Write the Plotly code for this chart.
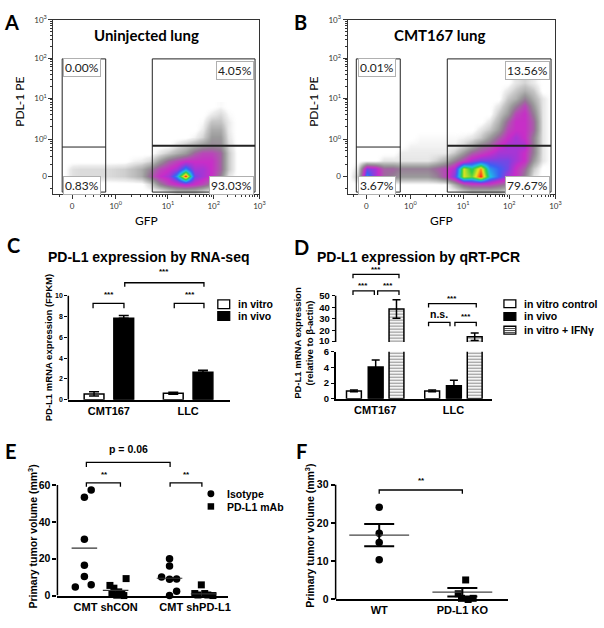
import numpy as np
import plotly.graph_objects as go

W, H = 604, 628

# ====================== DATA ======================
# ---- Panels A / B : flow cytometry (density on a display-scale grid)
flow_tick_labels = ["0", "10<sup>0</sup>", "10<sup>1</sup>", "10<sup>2</sup>", "10<sup>3</sup>"]
flow_titles = ["Uninjected lung", "CMT167 lung"]
flow_x_title = "GFP"
flow_y_title = "PDL-1 PE"
flow_a_percent = ["0.00%", "4.05%", "0.83%", "93.03%"]   # UL, UR, LL, LR
flow_b_percent = ["0.01%", "13.56%", "3.67%", "79.67%"]

flow_grid_x = [-0.4, -0.2, 0.0, 0.2, 0.4, 0.6, 0.8, 1.0, 1.2, 1.4, 1.6, 1.8,
               2.0, 2.2, 2.4, 2.6, 2.8, 3.0, 3.2, 3.4, 3.6, 3.8, 4.0, 4.2]
flow_a_grid_y = [-0.4, -0.2, 0.0, 0.2, 0.4, 0.6, 0.8, 1.0, 1.2, 1.4, 1.6, 1.8]
flow_a_density = [
    [0, 0, 0, 0, 0, 0, 0, 0, 0, 0, 0, 0, 0, 0.5, 1, 1, 1, 0.5, 0, 0, 0, 0, 0, 0],
    [0, 0, 0, 0, 0, 0, 0, 0, 0, 0, 0, 0.8, 2.5, 3.5, 4, 4.5, 4, 3.5, 2.5, 1, 0, 0, 0, 0],
    [0, 0, 0.6, 0.7, 0.7, 0.7, 0.7, 0.8, 0.9, 1.2, 1.6, 3, 4, 4.5, 6, 9, 5, 4.5, 4, 2.5, 0.5, 0, 0, 0],
    [0, 0, 0.6, 0.7, 0.7, 0.7, 0.7, 0.8, 0.9, 1.2, 1.6, 2.5, 3.5, 4, 4.5, 6, 4.5, 4.5, 4, 3, 1, 0, 0, 0],
    [0, 0, 0, 0, 0, 0, 0, 0, 0, 0.3, 0.4, 0.8, 2, 3, 3.5, 4, 4, 4, 4, 3, 1, 0, 0, 0],
    [0, 0, 0, 0, 0, 0, 0, 0, 0, 0, 0, 0, 0.5, 1, 1.5, 2, 3, 3.5, 3.5, 3, 1, 0, 0, 0],
    [0, 0, 0, 0, 0, 0, 0, 0, 0, 0, 0, 0, 0, 0, 0.5, 1, 1.5, 2, 2.3, 2.2, 0.7, 0, 0, 0],
    [0, 0, 0, 0, 0, 0, 0, 0, 0, 0, 0, 0, 0, 0, 0, 0, 0.3, 0.8, 2, 2, 0.5, 0, 0, 0],
    [0, 0, 0, 0, 0, 0, 0, 0, 0, 0, 0, 0, 0, 0, 0, 0, 0, 0.4, 1.6, 1.6, 0.4, 0, 0, 0],
    [0, 0, 0, 0, 0, 0, 0, 0, 0, 0, 0, 0, 0, 0, 0, 0, 0, 0.2, 1.1, 1.1, 0.4, 0, 0, 0],
    [0, 0, 0, 0, 0, 0, 0, 0, 0, 0, 0, 0, 0, 0, 0, 0, 0, 0, 0.4, 0.7, 0.2, 0, 0, 0],
    [0, 0, 0, 0, 0, 0, 0, 0, 0, 0, 0, 0, 0, 0, 0, 0, 0, 0, 0, 0.2, 0, 0, 0, 0],
]
flow_b_grid_y = [-0.4, -0.2, 0.0, 0.2, 0.4, 0.6, 0.8, 1.0, 1.2, 1.4, 1.6, 1.8, 2.0, 2.2, 2.4]
flow_b_density = [
    [0, 0, 0, 0, 0, 0, 0, 0, 0, 0, 0, 0, 0, 0.5, 1, 1, 1, 1, 0.5, 0, 0, 0, 0, 0],
    [0, 0, 1, 0.5, 0, 0, 0, 0, 0, 0, 0, 0, 1.5, 3, 3.5, 3.5, 3.5, 3, 2.5, 1.5, 0.5, 0, 0, 0],
    [0, 1, 6, 4.5, 3, 2.5, 2, 2, 2, 2, 2.5, 3.5, 5, 8, 7.5, 9, 6.5, 5.5, 4.5, 4, 2.5, 0.5, 0, 0],
    [0, 0.5, 5, 4.5, 3, 3, 2.5, 2.5, 2.5, 2.5, 3, 3.5, 4.5, 8, 7, 8.5, 6, 5.5, 5, 4, 3, 1, 0, 0],
    [0, 0, 0, 0, 0.5, 0.5, 0.5, 0.5, 0.5, 0.5, 0.9, 1.5, 2.5, 3.5, 4.5, 5, 5, 5, 5, 4.5, 4, 2, 0.5, 0],
    [0, 0, 0, 0, 0, 0, 0.4, 0.4, 0.4, 0.4, 0.4, 0.4, 1, 2, 3, 3.5, 4, 4.5, 4.5, 4.5, 4, 2.5, 0.5, 0],
    [0, 0, 0, 0, 0, 0, 0, 0.3, 0.3, 0.3, 0.3, 0.3, 0.3, 0.8, 1.5, 2.5, 3, 4, 4.5, 4.5, 4.5, 2.5, 0.5, 0],
    [0, 0, 0, 0, 0, 0, 0, 0, 0.2, 0.2, 0.2, 0.2, 0.2, 0.3, 0.5, 1, 2, 3, 4, 4.5, 4, 2.5, 0.5, 0],
    [0, 0, 0, 0, 0, 0, 0, 0, 0, 0, 0, 0, 0, 0, 0, 0.5, 1, 2, 3.5, 4, 4, 3, 0.5, 0],
    [0, 0, 0, 0, 0, 0, 0, 0, 0, 0, 0, 0, 0, 0, 0, 0, 0.5, 1.5, 3, 4, 4, 3, 0.5, 0],
    [0, 0, 0, 0, 0, 0, 0, 0, 0, 0, 0, 0, 0, 0, 0, 0, 0, 1, 2, 3.5, 4, 2.5, 0.5, 0],
    [0, 0, 0, 0, 0, 0, 0, 0, 0, 0, 0, 0, 0, 0, 0, 0, 0, 0.5, 1.5, 2.5, 3.5, 2, 0.5, 0],
    [0, 0, 0, 0, 0, 0, 0, 0, 0, 0, 0, 0, 0, 0, 0, 0, 0, 0, 1, 1.5, 2.5, 1.5, 0.5, 0],
    [0, 0, 0, 0, 0, 0, 0, 0, 0, 0, 0, 0, 0, 0, 0, 0, 0, 0, 0.5, 1, 1.5, 1, 0, 0],
    [0, 0, 0, 0, 0, 0, 0, 0, 0, 0, 0, 0, 0, 0, 0, 0, 0, 0, 0, 0.5, 0.8, 0.4, 0, 0],
]
# gates in display units: [x0, x1, y0, y1, divider]
flow_gate_left = [-0.23, 0.77, -0.4, 3.0, 0.75]
flow_gate_right = [1.84, 4.2, -0.4, 3.0, 0.78]

# ---- Panel C : RNA-seq
c_title = "PD-L1 expression by RNA-seq"
c_ytitle = "PD-L1 mRNA expression (FPKM)"
c_categories = ["CMT167", "LLC"]
c_series = ["in vitro", "in vivo"]
c_in_vitro = [0.56, 0.62]
c_in_vitro_err = [0.2, 0.1]
c_in_vivo = [7.83, 2.65]
c_in_vivo_err = [0.28, 0.18]
c_ticks = [0, 2, 4, 6, 8, 10]

# ---- Panel D : qRT-PCR
d_title = "PD-L1 expression by qRT-PCR"
d_ytitle = "PD-L1 mRNA expression<br>(relative to β-actin)"
d_categories = ["CMT167", "LLC"]
d_series = ["in vitro control", "in vivo", "in vitro + IFNγ"]
d_control = [1.0, 1.0]
d_control_err = [0.12, 0.1]
d_vivo = [4.05, 1.65]
d_vivo_err = [0.9, 0.7]
d_ifn = [38.5, 14.5]
d_ifn_err = [8.0, 3.2]
d_ticks_low = [0, 2, 4, 6]
d_ticks_high = [10, 20, 30, 40, 50]

# ---- Panel E : tumor volume, antibody
e_ytitle = "Primary tumor volume (mm<sup>3</sup>)"
e_groups = ["CMT shCON", "CMT shPD-L1"]
e_series = ["Isotype", "PD-L1 mAb"]
e_iso_shcon = [57.2, 53.3, 30.6, 16.5, 10.3, 4.6, 5.8]
e_mab_shcon = [9.2, 5.5, 4.0, 2.0, 1.0, 0.6, 0.2, 0.0]
e_iso_shpd = [20.0, 16.0, 10.0, 9.0, 8.8, 2.3, 0.0]
e_mab_shpd = [5.8, 1.1, 1.1, 0.3, 0.3, 0.0]
e_center_lines = [25.7, 2.8, 9.4, 0.9]
e_ticks = [0, 20, 40, 60]

# ---- Panel F : tumor volume, KO
f_groups = ["WT", "PD-L1 KO"]
f_wt = [24.1, 17.3, 14.9, 10.4]
f_ko = [5.1, 1.5, 0.3, 0.0, 0.3]
f_mean = [16.8, 1.9]
f_sem = [2.9, 1.1]
f_ticks = [0, 10, 20, 30]

# ====================== LAYOUT HELPERS ======================
ARIAL = "Liberation Sans, Arial, sans-serif"
CALI = "Lato, Carlito, sans-serif"


def xd(a, b):
    return [a / W, b / W]


def yd(top, bottom):
    return [1 - bottom / H, 1 - top / H]


def P(x, y):
    return x / W, 1 - y / H


annotations = []
shapes = []


def ann(text, x, y, size, family=ARIAL, bold=True, xanchor="center", angle=0, color="black"):
    px_, py_ = P(x, y)
    annotations.append(dict(text=text, x=px_, y=py_, xref="paper", yref="paper", showarrow=False,
                            xanchor=xanchor, yanchor="middle", textangle=angle,
                            font=dict(family=family, size=size, color=color,
                                      weight="bold" if bold else "normal")))


def dann(text, x, y, xref, yref, size, bold=True, family=ARIAL):
    annotations.append(dict(text=text, x=x, y=y, xref=xref, yref=yref, showarrow=False,
                            xanchor="center", yanchor="middle",
                            font=dict(family=family, size=size, color="black",
                                      weight="bold" if bold else "normal")))


def bracket(xref, yref, x0, x1, y, drop):
    shapes.append(dict(type="path", xref=xref, yref=yref, layer="above",
                       path=f"M {x0},{y - drop} L {x0},{y} L {x1},{y} L {x1},{y - drop}",
                       line=dict(color="black", width=1.3)))


fig = go.Figure()

# ====================== A / B flow ======================
flow_cs = [
    [0.0, "rgba(255,255,255,0)"],
    [0.04, "rgba(215,215,215,0.45)"],
    [0.11, "rgb(200,200,200)"],
    [0.22, "rgb(155,155,155)"],
    [0.3, "rgb(150,118,150)"],
    [0.38, "rgb(182,75,182)"],
    [0.45, "rgb(200,45,200)"],
    [0.53, "rgb(145,60,220)"],
    [0.61, "rgb(60,95,245)"],
    [0.71, "rgb(30,190,230)"],
    [0.8, "rgb(45,205,70)"],
    [0.9, "rgb(240,230,30)"],
    [1.0, "rgb(255,25,25)"],
]
for dens, gy, xa, ya in [(flow_a_density, flow_a_grid_y, "x", "y"),
                         (flow_b_density, flow_b_grid_y, "x2", "y2")]:
    fig.add_trace(go.Heatmap(x=flow_grid_x, y=gy, z=dens, zmin=0, zmax=9, zsmooth="best",
                             colorscale=flow_cs, showscale=False, hoverinfo="skip",
                             xaxis=xa, yaxis=ya))

flow_x_tickpos = [0, 1, 2.2, 3.25, 4.3]
flow_y_tickpos = [0, 0.95, 2, 3.02, 4]


def minor_positions(major):
    out = [-0.3, 0.3, 0.5, 0.65, 0.75, 0.83, 0.9]
    for k in range(1, len(major) - 1):
        for m in range(2, 10):
            out.append(major[k] + np.log10(m) * (major[k + 1] - major[k]))
    return out


def flow_axis(domain, anchor, rng, tickpos):
    return dict(domain=domain, anchor=anchor, range=rng, tickmode="array", tickvals=tickpos,
                ticktext=flow_tick_labels, ticks="outside", ticklen=4, tickwidth=1, tickcolor="#333",
                showline=True, linecolor="#333", linewidth=1, mirror=True, showgrid=False,
                zeroline=False, tickfont=dict(family=CALI, size=8, color="#333"),
                minor=dict(tickmode="array", tickvals=minor_positions(tickpos), ticks="outside",
                           ticklen=2, tickwidth=1, tickcolor="#333", showgrid=False))


layout_axes = {}
layout_axes["xaxis"] = flow_axis(xd(54, 262), "y", [-0.43, 4.3], flow_x_tickpos)
layout_axes["yaxis"] = flow_axis(yd(13, 191), "x", [-0.45, 4.0], flow_y_tickpos)
layout_axes["xaxis2"] = flow_axis(xd(351, 561), "y2", [-0.43, 4.3], flow_x_tickpos)
layout_axes["yaxis2"] = flow_axis(yd(13, 191), "x2", [-0.45, 4.0], flow_y_tickpos)

for (xa, ya, pct) in [("x", "y", flow_a_percent), ("x2", "y2", flow_b_percent)]:
    for g, dw in [(flow_gate_left, 1), (flow_gate_right, 2)]:
        shapes.append(dict(type="rect", xref=xa, yref=ya, x0=g[0], x1=g[1], y0=g[2], y1=g[3],
                           line=dict(color="#222", width=1), layer="above"))
        shapes.append(dict(type="line", xref=xa, yref=ya, x0=g[0], x1=g[1], y0=g[4], y1=g[4],
                           line=dict(color="#222", width=dw), layer="above"))
    pos = [(flow_gate_left[0] + 0.03, 2.77, "left"), (flow_gate_right[1] - 0.03, 2.7, "right"),
           (flow_gate_left[0] + 0.03, -0.22, "left"), (flow_gate_right[1] - 0.03, -0.22, "right")]
    for t, (x, y, xa_) in zip(pct, pos):
        annotations.append(dict(text=t, x=x, y=y, xref=xa, yref=ya, showarrow=False,
                                xanchor=xa_, yanchor="middle", bgcolor="white",
                                bordercolor="#b0b0b0", borderwidth=1, borderpad=1,
                                font=dict(family=CALI, size=12, color="#222")))

ann(flow_titles[0], 148, 29, 15, CALI, True)
ann(flow_titles[1], 444, 29, 15, CALI, True)
ann(flow_x_title, 148, 218, 12, CALI, False)
ann(flow_x_title, 446, 218, 12, CALI, False)
ann(flow_y_title, 20, 97, 12, CALI, False, angle=-90)
ann(flow_y_title, 317, 97, 12, CALI, False, angle=-90)

# ====================== C ======================
cx = list(range(len(c_categories)))
fig.add_trace(go.Bar(x=cx, y=c_in_vitro, name=c_series[0], width=0.25, offset=-0.3125,
                     marker=dict(color="white", line=dict(color="black", width=1.5)),
                     error_y=dict(type="data", array=c_in_vitro_err, color="black", thickness=1.5, width=5),
                     xaxis="x3", yaxis="y3"))
fig.add_trace(go.Bar(x=cx, y=c_in_vivo, name=c_series[1], width=0.25, offset=0.0625,
                     marker=dict(color="black", line=dict(color="black", width=1.5)),
                     error_y=dict(type="data", array=c_in_vivo_err, arrayminus=[0, 0], color="black",
                                  thickness=1.5, width=5),
                     xaxis="x3", yaxis="y3"))

bar_tick = dict(ticks="outside", ticklen=3, tickwidth=1.2, tickcolor="black", showgrid=False, zeroline=False)
layout_axes["xaxis3"] = dict(domain=xd(69, 232), anchor="y3", range=[-0.5125, 1.525], tickmode="array",
                             tickvals=cx, ticktext=c_categories, ticks="", showline=True, linecolor="black",
                             linewidth=1.5, showgrid=False, zeroline=False,
                             tickfont=dict(family=ARIAL, size=11, color="black", weight="bold"))
layout_axes["yaxis3"] = dict(domain=yd(263, 401), anchor="x3", range=[0, 13], tickmode="array",
                             tickvals=c_ticks, showline=False,
                             tickfont=dict(family=ARIAL, size=7, color="black", weight="bold"), **bar_tick)
shapes.append(dict(type="line", xref="x3 domain", yref="y3", x0=0, x1=0, y0=0, y1=max(c_ticks),
                   line=dict(color="black", width=1.5)))
bracket("x3", "y3", -0.2, 0.19, 9.27, 0.47)
bracket("x3", "y3", 0.825, 1.2, 9.27, 0.47)
bracket("x3", "y3", 0.2, 1.2, 11.25, 0.38)
dann("***", 0.0, 10.1, "x3", "y3", 8)
dann("***", 1.02, 10.1, "x3", "y3", 8)
dann("***", 0.7, 12.3, "x3", "y3", 8)

ann(c_title, 150, 255, 14, ARIAL, True)
ann(c_ytitle, 49, 348, 9.5, ARIAL, True, angle=-90)
# legend C
shapes.append(dict(type="rect", xref="paper", yref="paper", x0=220 / W, x1=232 / W,
                   y0=1 - 308 / H, y1=1 - 299 / H, fillcolor="white", line=dict(color="black", width=1.3)))
shapes.append(dict(type="rect", xref="paper", yref="paper", x0=220 / W, x1=232 / W,
                   y0=1 - 320 / H, y1=1 - 311 / H, fillcolor="black", line=dict(color="black", width=1.3)))
ann(c_series[0], 238, 303.5, 10.5, ARIAL, True, xanchor="left")
ann(c_series[1], 238, 316, 10.5, ARIAL, True, xanchor="left")

# ====================== D ======================
dxp = list(range(len(d_categories)))
hatch = dict(shape="-", fgcolor="#222", bgcolor="white", size=3, solidity=0.4)
d_specs = [
    (d_series[0], d_control, d_control_err, -0.367, dict(color="white", line=dict(color="black", width=1.5))),
    (d_series[1], d_vivo, d_vivo_err, -0.089, dict(color="black", line=dict(color="black", width=1.5))),
    (d_series[2], d_ifn, d_ifn_err, 0.177, dict(color="white", pattern=hatch, line=dict(color="black", width=1.5))),
]
for ya in ["y4", "y5"]:
    for name, vals, err, off, mk in d_specs:
        fig.add_trace(go.Bar(x=dxp, y=vals, name=name, width=0.19, offset=off, marker=mk,
                             error_y=dict(type="data", array=err, color="black", thickness=1.5, width=4),
                             xaxis="x4", yaxis=ya))
d_tickfont = dict(family=ARIAL, size=9.5, color="black", weight="bold")
layout_axes["xaxis4"] = dict(domain=xd(339, 497), anchor="y4", range=[-0.506, 1.494], tickmode="array",
                             tickvals=dxp, ticktext=d_categories, ticks="", showline=True, linecolor="black",
                             linewidth=1.5, showgrid=False, zeroline=False,
                             tickfont=dict(family=ARIAL, size=11, color="black", weight="bold"))
layout_axes["yaxis4"] = dict(domain=yd(352, 400), anchor="x4", range=[0, 6], tickmode="array",
                             tickvals=d_ticks_low, showline=True, linecolor="black", linewidth=1.5,
                             tickfont=d_tickfont, **bar_tick)
# the lowest label of the upper segment sits 1px above its tick so the labels at the break stay apart
layout_axes["yaxis5"] = dict(domain=yd(260, 342), anchor="x4", range=[10, 79.5], tickmode="array",
                             tickvals=d_ticks_high,
                             ticktext=[""] + [str(v) for v in d_ticks_high[1:]], showline=False,
                             tickfont=d_tickfont, **bar_tick)
annotations.append(dict(text=str(d_ticks_high[0]), x=0, y=d_ticks_high[0], xref="x4 domain", yref="y5",
                        xanchor="right", yanchor="middle", xshift=-5, yshift=1.2, showarrow=False,
                        borderpad=0, font=d_tickfont))
shapes.append(dict(type="line", xref="x4 domain", yref="y5", x0=0, x1=0, y0=min(d_ticks_high),
                   y1=max(d_ticks_high), line=dict(color="black", width=1.5)))
bracket("x4", "y5", -0.284, 0.304, 68.5, 3.4)
bracket("x4", "y5", -0.284, -0.011, 54.1, 3.4)
bracket("x4", "y5", 0.031, 0.304, 54.1, 3.4)
bracket("x4", "y5", 1 - 0.318, 1 + 0.292, 43.1, 3.4)
bracket("x4", "y5", 1 - 0.318, 1 - 0.044, 26.9, 3.4)
bracket("x4", "y5", 1 + 0.019, 1 + 0.292, 26.9, 3.4)
dann("***", 0.01, 72.5, "x4", "y5", 8)
dann("***", -0.15, 59.0, "x4", "y5", 8)
dann("***", 0.166, 59.0, "x4", "y5", 8)
dann("***", 1 - 0.015, 48.0, "x4", "y5", 8)
dann("n.s.", 1 - 0.18, 34.4, "x4", "y5", 10.5)
dann("***", 1 + 0.166, 32.0, "x4", "y5", 8)

ann(d_title, 423, 255, 14, ARIAL, True)
ann(d_ytitle, 307, 343, 9.5, ARIAL, True, angle=-90)
# legend D
for (y0, y1, fill) in [(299, 307, "white"), (312, 320, "black"), (326, 334, "white")]:
    shapes.append(dict(type="rect", xref="paper", yref="paper", x0=509 / W, x1=521 / W,
                       y0=1 - y1 / H, y1=1 - y0 / H, fillcolor=fill, line=dict(color="black", width=1.3)))
for yy in [328.3, 330.3, 332.3]:
    shapes.append(dict(type="line", xref="paper", yref="paper", x0=509 / W, x1=521 / W,
                       y0=1 - yy / H, y1=1 - yy / H, line=dict(color="#333", width=0.9)))
ann(d_series[0], 527, 303, 10.5, ARIAL, True, xanchor="left")
ann(d_series[1], 527, 316, 10.5, ARIAL, True, xanchor="left")
ann(d_series[2], 527, 330, 10.5, ARIAL, True, xanchor="left")

# ====================== E ======================
e_centers = [0.95, 2.05, 3.95, 5.15]
e_dx = [
    [0.24, 0.0, 0.0, 0.0, 0.0, -0.32, 0.24],
    [0.37, -0.2, -0.06, 0.11, -0.13, 0.22, 0.04, 0.29],
    [0.0, 0.0, -0.28, 0.25, 0.0, 0.25, 0.0],
    [-0.08, -0.31, 0.04, -0.2, 0.15, 0.33],
]
e_sets = [(e_iso_shcon, "circle", 7.5), (e_mab_shcon, "square", 7),
          (e_iso_shpd, "circle", 7.5), (e_mab_shpd, "square", 7)]
for i, (vals, sym, sz) in enumerate(e_sets):
    c = e_centers[i]
    fig.add_trace(go.Scatter(x=[c + d for d in e_dx[i]], y=vals, mode="markers",
                             name=e_series[i % 2],
                             marker=dict(symbol=sym, size=sz, color="black"), cliponaxis=False,
                             xaxis="x6", yaxis="y6"))
    fig.add_trace(go.Scatter(x=[c - 0.45, c + 0.45], y=[e_center_lines[i]] * 2, mode="lines",
                             line=dict(color="#333", width=1.2), xaxis="x6", yaxis="y6"))
layout_axes["xaxis6"] = dict(domain=xd(58, 230), anchor="y6", range=[0, 6], tickmode="array",
                             tickvals=[1.7, 4.85], ticktext=e_groups, ticks="", showline=True,
                             linecolor="black", linewidth=1.5, showgrid=False, zeroline=False,
                             tickfont=dict(family=ARIAL, size=11, color="black", weight="bold"))
layout_axes["yaxis6"] = dict(domain=yd(441, 601), anchor="x6", range=[0, 85], tickmode="array",
                             tickvals=e_ticks, showline=False,
                             tickfont=dict(family=ARIAL, size=10.5, color="black", weight="bold"),
                             ticks="outside", ticklen=4, tickwidth=1.5, tickcolor="black",
                             showgrid=False, zeroline=False)
shapes.append(dict(type="line", xref="x6 domain", yref="y6", x0=0, x1=0, y0=0, y1=max(e_ticks),
                   line=dict(color="black", width=1.5)))
bracket("x6", "y6", 1.02, 2.22, 61.1, 2.1)
bracket("x6", "y6", 3.97, 5.09, 61.1, 2.1)
bracket("x6", "y6", 1.02, 3.97, 72.3, 2.6)
dann("**", 1.67, 65.6, "x6", "y6", 8)
dann("**", 4.55, 65.6, "x6", "y6", 8)
dann("p = 0.06", 2.5, 79.3, "x6", "y6", 10.5)
ann(e_ytitle, 33, 541, 10.5, ARIAL, True, angle=-90)
# legend E
shapes.append(dict(type="circle", xref="paper", yref="paper", x0=209.5 / W, x1=216.5 / W,
                   y0=1 - 500.5 / H, y1=1 - 493.5 / H, fillcolor="black", line=dict(color="black", width=0)))
shapes.append(dict(type="rect", xref="paper", yref="paper", x0=209.7 / W, x1=216.3 / W,
                   y0=1 - 513.3 / H, y1=1 - 506.7 / H, fillcolor="black", line=dict(color="black", width=0)))
ann(e_series[0], 227, 497, 10.5, ARIAL, True, xanchor="left")
ann(e_series[1], 227, 510.5, 10.5, ARIAL, True, xanchor="left")

# ====================== F ======================
f_centers = [1, 2]
f_ko_dx = [0.04, -0.05, -0.01, 0.07, 0.13]
fig.add_trace(go.Scatter(x=[f_centers[0]] * len(f_wt), y=f_wt, mode="markers", name=f_groups[0],
                         marker=dict(symbol="circle", size=7.5, color="black"), cliponaxis=False,
                         xaxis="x7", yaxis="y7"))
fig.add_trace(go.Scatter(x=[f_centers[1] + d for d in f_ko_dx], y=f_ko, mode="markers", name=f_groups[1],
                         marker=dict(symbol="square", size=7, color="black"), cliponaxis=False,
                         xaxis="x7", yaxis="y7"))
for i, c in enumerate(f_centers):
    fig.add_trace(go.Scatter(x=[c - 0.36, c + 0.36], y=[f_mean[i]] * 2, mode="lines",
                             line=dict(color="#444", width=1.2), xaxis="x7", yaxis="y7"))
fig.add_trace(go.Scatter(x=f_centers, y=f_mean, mode="markers",
                         marker=dict(size=1, color="rgba(0,0,0,0)"),
                         error_y=dict(type="data", array=f_sem, color="black", thickness=2, width=15),
                         cliponaxis=False, xaxis="x7", yaxis="y7"))
layout_axes["xaxis7"] = dict(domain=xd(339, 513), anchor="y7", range=[0.476, 2.548], tickmode="array",
                             tickvals=f_centers, ticktext=f_groups, ticks="", showline=True,
                             linecolor="black", linewidth=1.5, showgrid=False, zeroline=False,
                             tickfont=dict(family=ARIAL, size=11, color="black", weight="bold"))
layout_axes["yaxis7"] = dict(domain=yd(476, 605), anchor="x7", range=[0, 33], tickmode="array",
                             tickvals=f_ticks, showline=False,
                             tickfont=dict(family=ARIAL, size=10.5, color="black", weight="bold"),
                             ticks="outside", ticklen=4, tickwidth=1.5, tickcolor="black",
                             showgrid=False, zeroline=False)
shapes.append(dict(type="line", xref="x7 domain", yref="y7", x0=0, x1=0, y0=0, y1=max(f_ticks),
                   line=dict(color="black", width=1.5)))
bracket("x7", "y7", 1, 2, 28.6, 1.0)
dann("**", 1.51, 31.2, "x7", "y7", 8)
ann(e_ytitle, 313, 540, 10.5, ARIAL, True, angle=-90)

# ====================== panel letters ======================
for letter, x, y in [("A", 12, 15), ("B", 304, 15), ("C", 14, 243), ("D", 305, 245),
                     ("E", 11, 453), ("F", 305, 453)]:
    ann(letter, x, y, 20, CALI, True)

fig.update_layout(width=W, height=H, margin=dict(l=0, r=0, t=0, b=0), paper_bgcolor="white",
                  plot_bgcolor="white", showlegend=False, barmode="overlay",
                  annotations=annotations, shapes=shapes, **layout_axes)
fig.write_html("out.html", config={"displayModeBar": False},
               post_script="document.body.style.margin='0px';")
